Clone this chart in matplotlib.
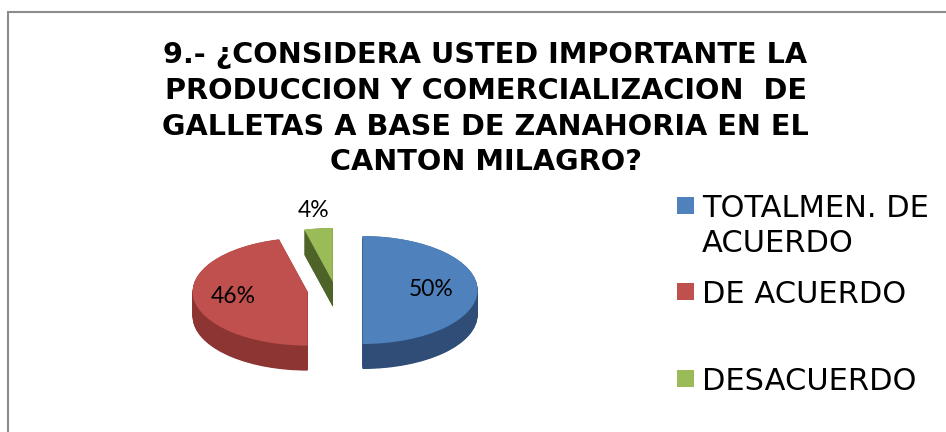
import numpy as np
import matplotlib
matplotlib.use("Agg")
import matplotlib.pyplot as plt
from matplotlib.patches import Rectangle

# ---- data ----
categories = ["TOTALMEN. DE\nACUERDO", "DE ACUERDO", "DESACUERDO"]
values = [50, 46, 4]
title_lines = ["9.- ¿CONSIDERA USTED IMPORTANTE LA",
               "PRODUCCION Y COMERCIALIZACION  DE",
               "GALLETAS A BASE DE ZANAHORIA EN EL",
               "CANTON MILAGRO?"]

# ---- styles ----
top_colors = ["#4f81bd", "#c0504d", "#9bbb59"]
side_colors = ["#2f4d76", "#8c3533", "#4e6328"]
explode = [0.24, 0.24, 0.15]
label_r = [0.6, 0.65, 1.33]

W, H = 946, 432
fig = plt.figure(figsize=(W / 100, H / 100), dpi=100)

def fx(x):
    return x / W

def fy(y):
    return 1 - y / H

# border of the chart area
fig.add_artist(Rectangle((fx(7.5), fy(460)), fx(1000), 448 / H,
                         transform=fig.transFigure, fill=False,
                         edgecolor="#8c8c8c", linewidth=1.5))

# title
baselines = [63, 99, 135, 170.5]
for line, yb in zip(title_lines, baselines):
    fig.text(fx(485.5), fy(yb), line, ha="center", va="baseline",
             fontsize=20.7, fontweight="bold", family="DejaVu Sans")

# pie axes: unit radius -> 115 px wide, 54 px tall
rx, ry = 115, 54
cx, cy = 335, 290
xl, yl = (-1.6, 1.6), (-2.0, 1.8)
left = cx + xl[0] * rx
bottom = (H - cy) + yl[0] * ry
ax = fig.add_axes([left / W, bottom / H, (xl[1] - xl[0]) * rx / W,
                   (yl[1] - yl[0]) * ry / H])

depth = 25 / ry
for k in np.linspace(depth, 0.004, 45):
    ax.pie(values, explode=explode, startangle=90, counterclock=False,
           colors=side_colors, center=(0, -k),
           wedgeprops=dict(linewidth=0))
wedges, _ = ax.pie(values, explode=explode, startangle=90, counterclock=False,
                   colors=top_colors, center=(0, 0),
                   wedgeprops=dict(linewidth=0))

for w, v, r in zip(wedges, values, label_r):
    th = np.deg2rad((w.theta1 + w.theta2) / 2)
    x0, y0 = w.center
    ax.text(x0 + r * np.cos(th), y0 + r * np.sin(th), f"{v:.0f}%",
            ha="center", va="center", fontsize=16.5, family="Lato")

ax.set_aspect("auto")
ax.set_xlim(*xl)
ax.set_ylim(*yl)
ax.axis("off")

# legend
sq_tops = [197, 283, 370]
text_baselines = [217, 303, 390]
for lab, col, st, tb in zip(categories, top_colors, sq_tops, text_baselines):
    fig.add_artist(Rectangle((fx(677), fy(st + 16.5)), 17 / W, 16.5 / H,
                             transform=fig.transFigure, facecolor=col,
                             edgecolor="none"))
    lines = lab.split("\n")
    for i, ln in enumerate(lines):
        fig.text(fx(702), fy(tb + i * 35.5), ln, ha="left", va="baseline",
                 fontsize=22, family="DejaVu Sans")

fig.savefig("out.png", dpi=100)
